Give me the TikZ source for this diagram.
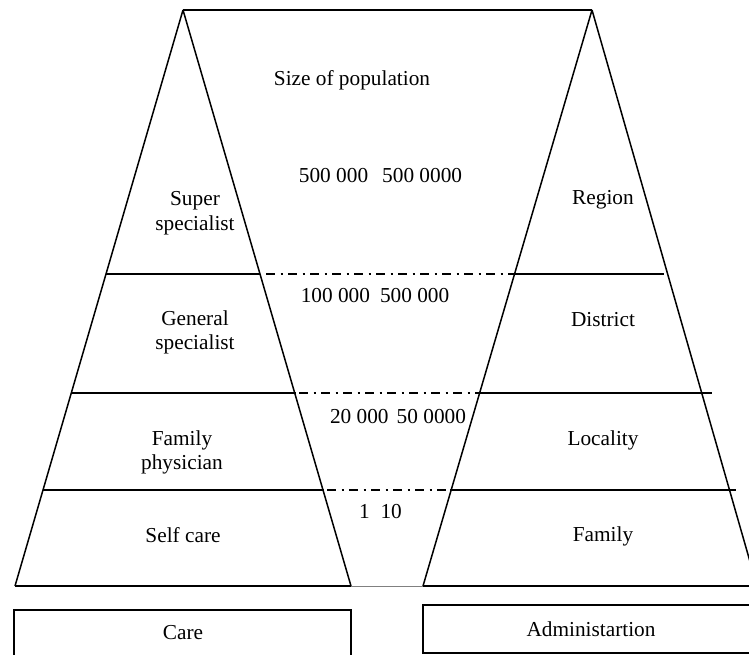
\documentclass[tikz,border=0pt]{standalone}
\usepackage{fontspec}
\setmainfont{Liberation Serif}
\usetikzlibrary{calc}

\tikzset{
  leg/.style={line width=1.5pt, line join=miter},
  level/.style={line width=2pt},
  levelgap/.style={line width=1.8pt, dash pattern=on 9pt off 5.5pt on 2pt off 5.5pt},
  label/.style={inner sep=0pt, align=center, font=\fontsize{21.3}{24.5}\selectfont},
  footbox/.style={line width=1.6pt}
}

\begin{document}
\begin{tikzpicture}[x=1pt, y=-1pt]
  \useasboundingbox (0,0) rectangle (749,655);

  % apexes and base corners of the two pyramids
  \coordinate (LA)  at (183,10);
  \coordinate (LBL) at (15,586);
  \coordinate (LBR) at (351,586);
  \coordinate (RA)  at (592,10);
  \coordinate (RBL) at (423,586);
  \coordinate (RBR) at (757,586);

  % top bar joining the apexes
  \draw[level] (LA) -- (RA);

  % care pyramid
  \draw[leg] (LA) -- (LBL);
  \draw[leg] (LA) -- (LBR);
  \draw[level] (LBL) -- (LBR);

  % administration pyramid
  \draw[leg] (RA) -- (RBL);
  \draw[leg] (RA) -- (RBR);
  \draw[level] (RBL) -- (RBR);

  % thin join between the two bases
  \draw[gray, line width=0.8pt] (LBR) -- (RBL);

  % level lines: solid inside the pyramids, dash-dot across the gap
  \draw[level]    (106,274) -- (260,274);
  \draw[levelgap] (266,274) -- (514,274);
  \draw[level]    (515,274) -- (664,274);

  \draw[level]    (71,393)  -- (296,393);
  \draw[levelgap] (299,393) -- (479,393);
  \draw[level]    (479,393) -- (712,393);

  \draw[level]    (43,490)  -- (324,490);
  \draw[levelgap] (327,490) -- (450,490);
  \draw[level]    (450,490) -- (736,490);

  % population sizes
  \node[label] (pop) at (352,80)  {Size of population};
  \node[label] (n1)  at (380.5,176) {500 000\hspace{0.66em}500 0000};
  \node[label] (n2)  at (375,296) {100 000\hspace{0.47em}500 000};
  \node[label] (n3)  at (398,417) {20 000\hspace{0.38em}50 0000};
  \node[label] (n4)  at (380.5,512) {1\hspace{0.5em}10};

  % levels of care
  \node[label] (super)  at (195,213)   {Super\\specialist};
  \node[label] (gen)    at (195,332.5) {General\\specialist};
  \node[label] (fam)    at (182,452.5) {Family\\physician};
  \node[label] (self)   at (183,535)   {Self care};

  % levels of administration
  \node[label] (region)   at (603,200) {Region};
  \node[label] (district) at (603,320) {District};
  \node[label] (locality) at (603,440) {Locality};
  \node[label] (family)   at (603,536) {Family};

  % captions under the pyramids
  \draw[footbox] (14,610) rectangle (351,668);
  \node[label] (care) at (183,633) {Care};
  \draw[footbox] (423,605) rectangle (762,653);
  \node[label] (admin) at (591,629) {Administartion};
\end{tikzpicture}
\end{document}
